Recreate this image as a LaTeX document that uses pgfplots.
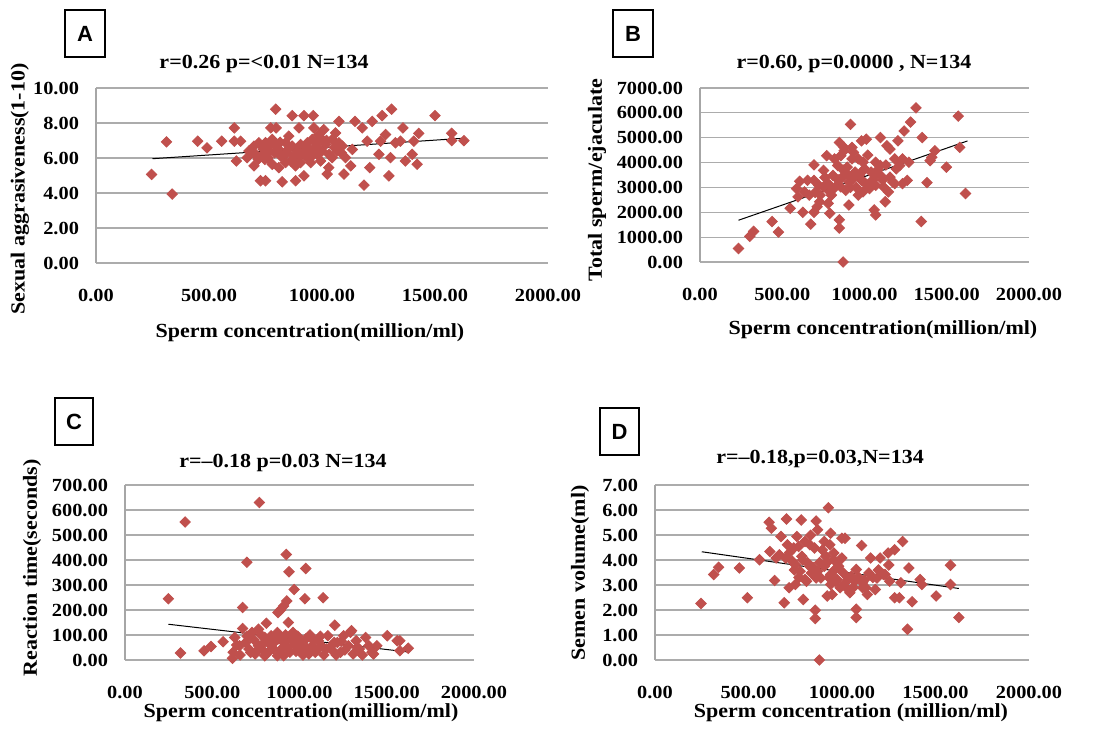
\documentclass[border=0pt]{standalone}
\usepackage{pgfplots}
\pgfplotsset{compat=1.18}
\usepackage{fontspec}
\setmainfont{Liberation Serif}
\newfontfamily\boxfont{Liberation Sans}
\newfontfamily\wf[FakeStretch=1.1]{Liberation Serif}
\definecolor{mred}{HTML}{C0504D}
\pgfplotsset{
  sc/.style={
    scale only axis,
    anchor=south west,
    xmin=0, xmax=2000, xtick={0,500,1000,1500,2000},
    axis lines*=left,
    x axis line style={draw=none},
    y axis line style={draw=gray!70, line width=0.6pt},
    major tick length=0pt,
    ymajorgrids,
    major grid style={gray!65, line width=0.6pt},
    /pgf/number format/assume math mode=true,
    /pgf/number format/fixed,
    /pgf/number format/fixed zerofill,
    /pgf/number format/precision=2,
    /pgf/number format/1000 sep={},
    ticklabel style={font=\wf\bfseries\fontsize{9.25}{10}\selectfont},
    xticklabel style={yshift=-9.8pt},
    yticklabel style={xshift=-5pt},
    clip=false,
  },
  pts/.style={only marks, mark=square*, mark size=1.85pt, mark options={rotate=45, fill=mred, draw=mred}},
  trend/.style={black, line width=0.5pt, no marks},
}
\begin{document}
\begin{tikzpicture}
\path[use as bounding box] (0,0) rectangle (547pt,-366.5pt);

% ---------- A ----------
\begin{axis}[sc, at={(48pt,-131.5pt)}, width=226pt, height=87.5pt,
  ymin=0, ymax=10, ytick={0,2,...,10}]
\addplot[pts] coordinates {
(246,5.06)(337,3.94)(312,6.92)(450,6.96)(491,6.58)(556,6.96)(612,7.72)(612,6.96)(640,6.96)(621,5.83)
(669,6.02)(677,6.40)(699,6.68)(721,6.87)(699,5.55)(728,4.70)(750,4.70)(747,5.92)(750,6.87)(765,6.40)
(780,7.06)(773,7.72)(797,7.72)(795,8.79)(780,5.64)(809,5.45)(824,4.64)(831,6.21)(839,6.87)(853,7.25)
(868,8.42)(883,4.70)(861,5.83)(898,7.72)(890,6.40)(905,6.77)(920,8.42)(920,4.98)(927,6.11)(942,6.49)
(961,8.42)(964,7.72)(957,7.06)(979,6.21)(986,7.34)(1008,7.62)(1016,6.77)(1030,5.45)(1045,7.06)(1060,7.43)
(1075,8.09)(1023,5.08)(1067,6.40)(1097,5.08)(1104,6.02)(1127,5.55)(1134,6.49)(1146,8.09)(1178,7.72)(1186,4.45)
(1200,6.96)(1211,5.45)(1222,8.09)(1252,6.21)(1259,6.96)(1266,8.42)(1281,7.34)(1296,4.98)(1303,6.02)(1308,8.79)
(1325,6.87)(1358,7.72)(1347,6.96)(1369,5.83)(1399,6.21)(1421,5.64)(1428,7.41)(1406,6.96)(1500,8.42)(1574,7.41)
(1574,6.99)(1628,6.99)
(703,6.21)(718,5.92)(733,6.11)(755,6.21)(770,6.68)(799,6.68)(809,6.49)(817,6.11)(839,5.74)(846,6.30)
(868,6.68)(876,6.11)(883,5.55)(905,5.74)(913,6.30)(935,6.87)(950,5.74)(964,6.21)(972,6.68)(986,6.49)
(994,5.83)(1001,7.06)(1031,6.21)(1045,6.02)(1075,6.87)(1090,6.68)
(700,6.30)(740,6.50)(760,6.00)(790,6.30)(815,6.90)(850,6.50)(870,5.90)(895,6.20)(930,6.60)(945,6.00)
(975,6.90)(1000,6.40)(1020,7.00)(1055,6.60)(1085,6.30)
};
\addplot[trend] coordinates {(250,5.96) (1628,7.13)};
\end{axis}

% ---------- B ----------
\begin{axis}[sc, at={(350pt,-131pt)}, width=164.5pt, height=87pt,
  ymin=0, ymax=7000, ytick={0,1000,...,7000}]
\addplot[pts] coordinates {
(234,543)(303,1033)(326,1232)(438,1629)(477,1205)(548,2159)(625,2000)(673,1523)(606,3245)(693,3907)
(770,4278)(751,3682)(693,2000)(712,2225)(727,2424)(789,1960)(799,2689)(847,1695)(847,1364)(870,0)
(905,2291)(915,5536)(847,4808)(876,4477)(924,4609)(982,4874)(1011,4940)(1059,2093)(1068,1894)(1097,5007)
(1155,4543)(1136,4675)(1203,4874)(1241,5272)(1280,5629)(1313,6199)(1351,5007)(1345,1629)(1380,3192)(1409,4212)
(1428,4477)(1399,4079)(1498,3815)(1570,5868)(1579,4609)(1614,2755)(1231,3152)(1260,3285)(1270,4013)(1184,4146)
(1214,3881)(1171,3218)(1126,2424)(1145,2821)(1184,3152)(1097,3881)(1068,4013)(1040,3616)(1020,3086)(991,2821)
(962,2689)(943,3616)(962,4146)(924,4146)(895,3815)(866,3417)(837,3881)(818,4146)(808,3483)(779,3152)
(751,3020)(722,3086)(693,3285)(654,3285)(635,2821)(596,2623)(664,2689)(731,2689)(789,2821)(856,3020)
(886,2887)(905,3218)(933,3351)(982,3285)(1001,3748)(1030,2954)(1068,3086)(1097,3483)(1116,3020)(1155,3417)
(1193,3748)(1231,4146)(876,4609)(856,4278)(933,4411)(991,4013)(779,2358)(587,2954)(1068,3483)(982,3616)
(820,3000)(840,3300)(870,3700)(900,3500)(915,3000)(950,3000)(970,3500)(1000,3200)(1020,4300)(1050,3300)
(1080,3700)(1110,3300)(1130,3900)(760,3400)(700,2800)
};
\addplot[trend] coordinates {(234,1680) (1626,4870)};
\end{axis}

% ---------- C ----------
\begin{axis}[sc, at={(62.5pt,-330pt)}, width=174.5pt, height=87.5pt,
  ymin=0, ymax=700, ytick={0,100,...,700}]
\addplot[pts] coordinates {
(249,245)(345,552)(770,630)(318,28)(453,37)(493,54)(562,73)(698,391)(674,210)(924,422)
(940,353)(1036,366)(969,282)(1031,245)(1135,249)(927,236)(909,216)(891,200)(877,190)(936,150)
(810,147)(674,126)(1202,139)(1503,97)(629,90)(620,31)(616,7)(692,70)(728,110)(765,123)
(765,57)(801,90)(837,57)(873,17)(873,110)(909,70)(963,110)(1000,44)(1036,84)(1072,57)
(1108,77)(1154,44)(1163,97)(1199,70)(1235,31)(1253,97)(1280,57)(1298,117)(1325,77)(1379,90)
(1415,31)(1397,57)(1343,44)(1560,77)(746,24)(801,17)(710,44)(656,57)(945,31)(1000,77)
(1090,31)(1126,57)(837,97)(909,17)(972,57)(1054,24)(1199,31)(1217,70)(1307,24)(1424,24)
(783,44)(864,77)(1575,77)(1575,37)(1623,47)(1443,57)(1292,111)
(640,60)(660,20)(700,95)(720,30)(740,80)(760,40)(780,100)(790,65)(820,30)(830,75)
(850,45)(880,85)(890,40)(920,100)(930,50)(950,80)(980,35)(990,95)(1010,60)(1020,20)
(1045,45)(1060,100)(1080,80)(1100,40)(1120,95)(1140,20)(1180,55)(1210,20)(1240,75)(1260,40)
(1330,50)(1360,20)
};
\addplot[trend] coordinates {(249,143) (1623,32)};
\end{axis}

% ---------- D ----------
\begin{axis}[sc, at={(327.5pt,-330pt)}, width=187pt, height=87.5pt,
  ymin=0, ymax=7, ytick={0,1,...,7}]
\addplot[pts] coordinates {
(246,2.26)(314,3.42)(340,3.71)(451,3.68)(494,2.49)(559,4.01)(610,5.51)(622,5.27)(614,4.34)(640,3.18)
(691,2.29)(703,5.64)(674,4.94)(782,5.60)(759,4.94)(708,4.61)(665,4.21)(734,3.95)(717,2.89)(751,3.02)
(793,2.42)(810,3.15)(862,5.56)(870,5.21)(832,4.99)(853,4.48)(785,4.15)(827,3.75)(862,3.28)(857,1.99)
(857,1.66)(879,0.0)(927,6.09)(939,5.07)(935,4.61)(913,4.15)(905,3.75)(887,3.28)(921,2.56)(947,2.62)
(956,4.01)(982,3.75)(973,3.22)(999,4.87)(1016,4.87)(990,2.89)(1042,2.69)(1050,3.35)(1076,3.62)(1076,2.03)
(1076,1.70)(1105,4.58)(1110,3.09)(1136,2.62)(1144,3.48)(1153,4.08)(1178,2.82)(1204,4.08)(1230,3.42)(1247,4.28)
(1281,4.41)(1324,4.74)(1255,3.15)(1281,2.49)(1307,2.49)(1315,3.09)(1358,3.68)(1350,1.23)(1375,2.33)(1418,3.22)
(1427,3.02)(1503,2.56)(1580,3.79)(1580,3.02)(1625,1.70)(768,4.54)(802,4.74)(828,4.61)(751,3.81)(776,3.55)
(802,3.22)(836,3.48)(870,3.55)(939,3.42)(964,3.15)(1016,3.09)(1033,2.82)(1067,3.15)(1110,2.89)(1187,3.28)
(1221,3.42)(956,4.28)(990,4.01)(742,4.48)(699,4.08)(648,4.08)(905,4.74)(999,4.08)(1127,2.89)(939,3.02)
(720,4.30)(745,3.60)(770,3.30)(790,4.00)(815,3.90)(845,3.70)(880,3.90)(895,4.40)(920,3.90)(930,3.30)
(960,3.60)(975,3.90)(1005,3.50)(1030,3.30)(1060,2.90)(1090,3.30)(1120,3.20)(1165,3.30)(1195,3.60)(1250,3.80)
};
\addplot[trend] coordinates {(250,4.33) (1625,2.86)};
\end{axis}

% ---------- texts (pixel coordinates) ----------
\begin{scope}[x=0.5pt, y=-0.5pt]
\tikzset{tt/.style={font=\wf\bfseries\fontsize{10}{12}\selectfont, inner sep=0pt},
         lab/.style={font=\wf\bfseries\fontsize{10}{12}\selectfont, inner sep=0pt},
         bx/.style={font=\boxfont\bfseries\fontsize{11}{13}\selectfont, inner sep=0pt}}
\node[tt] at (264,64) {r=0.26 p=<0.01 N=134};
\node[tt] at (854,64) {r=0.60, p=0.0000 , N=134};
\node[tt] at (283,463) {r=–0.18 p=0.03 N=134};
\node[tt] at (820,459) {r=–0.18,p=0.03,N=134};
\node[lab] at (310,333) {Sperm concentration(million/ml)};
\node[lab] at (883,330) {Sperm concentration(million/ml)};
\node[lab] at (301,713) {Sperm concentration(milliom/ml)};
\node[lab] at (851,713) {Sperm concentration (million/ml)};
\node[lab, rotate=90] at (20,189) {Sexual aggrasiveness(1-10)};
\node[lab, rotate=90] at (597,180) {Total sperm/ejaculate};
\node[lab, rotate=90] at (32,568) {Reaction time(seconds)};
\node[lab, rotate=90] at (580,573) {Semen volume(ml)};
\draw[line width=1pt] (65,10) rectangle (105,57); \node[bx] at (85,33.5) {A};
\draw[line width=1pt] (613,10) rectangle (653,57); \node[bx] at (633,33.5) {B};
\draw[line width=1pt] (55,398) rectangle (93,445); \node[bx] at (74,421.5) {C};
\draw[line width=1pt] (600,408) rectangle (639,455); \node[bx] at (619.5,431.5) {D};
\end{scope}
\end{tikzpicture}
\end{document}
